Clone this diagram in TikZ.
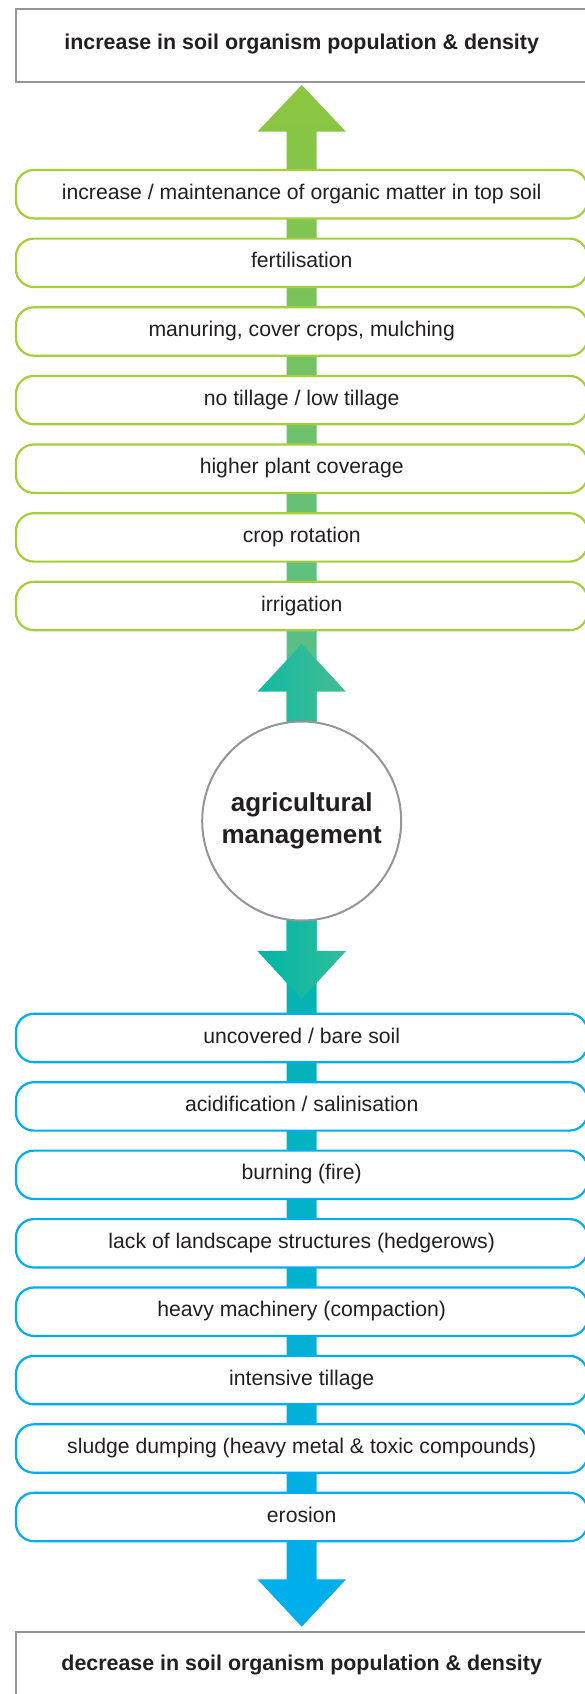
\documentclass[tikz,border=0pt]{standalone}
\usepackage{fontspec}
\setmainfont{Liberation Sans}
\usetikzlibrary{calc}
\definecolor{txt}{HTML}{231F20}
\definecolor{gborder}{HTML}{A6CE39}
\definecolor{bborder}{HTML}{00AEEF}
\definecolor{grayb}{HTML}{939598}
\definecolor{agreen}{HTML}{8DC63F}
\definecolor{agreenlow}{HTML}{51BE93}
\definecolor{tealA}{HTML}{10B9A4}
\definecolor{tealB}{HTML}{45BD90}
\definecolor{tealC}{HTML}{00B5A6}
\definecolor{tealD}{HTML}{2FBD9B}
\definecolor{tealtop}{HTML}{05B5AA}
\definecolor{cyanlow}{HTML}{00AEEF}
\begin{document}
\begin{tikzpicture}[x=1pt,y=-1pt,
  font=\fontsize{21.2}{25}\selectfont, text=txt,
  itembox/.style={draw, line width=2.2pt, rounded corners=18pt, fill=white,
    minimum width=571.6pt, minimum height=48.4pt, inner sep=0pt,
    text height=15pt, text depth=5pt},
  greenbox/.style={itembox, draw=gborder},
  bluebox/.style={itembox, draw=bborder},
  endbox/.style={draw=grayb, line width=2pt, fill=white, minimum width=571.8pt,
    inner sep=0pt, font=\bfseries\fontsize{21.4}{25}\selectfont},
  hub/.style={circle, draw=grayb, line width=2pt, fill=white, minimum size=199pt,
    inner sep=0pt, align=center, font=\bfseries\fontsize{26}{31.7}\selectfont}
]
\useasboundingbox (0,0) rectangle (584,1694);

% long upward arrow
\shade[top color=agreen, bottom color=agreenlow]
  (286.7,735) -- (286.7,131.7) -- (257.4,131.7) -- (301.7,85) -- (346,131.7)
  -- (316.7,131.7) -- (316.7,735) -- cycle;
% short upward arrow
\shade[left color=tealA, right color=tealB]
  (286.7,735) -- (286.7,691.7) -- (257.4,691.7) -- (301.7,644) -- (346,691.7)
  -- (316.7,691.7) -- (316.7,735) -- cycle;
% long downward arrow
\shade[top color=tealtop, bottom color=cyanlow]
  (286.7,910) -- (286.7,1579.3) -- (257.4,1579.3) -- (301.7,1626.7) -- (346,1579.3)
  -- (316.7,1579.3) -- (316.7,910) -- cycle;
% short downward arrow
\shade[left color=tealC, right color=tealD]
  (286.7,910) -- (286.7,951) -- (257.4,951) -- (301.7,999) -- (346,951)
  -- (316.7,951) -- (316.7,910) -- cycle;

\node[hub] (am) at (301.7,821) {agricultural\\management};

\node[endbox, minimum height=72.4pt, text height=15pt, text depth=7.4pt] (top) at (301.7,45.5)
  {increase in soil organism population \& density};
\node[endbox, minimum height=63pt, text height=16pt, text depth=2pt] (bottom) at (301.7,1663.5)
  {decrease in soil organism population \& density};

\node[greenbox] (g1) at (301.7,194.2) {increase / maintenance of organic matter in top soil};
\node[greenbox] (g2) at (301.7,262.8) {fertilisation};
\node[greenbox] (g3) at (301.7,331.5) {manuring, cover crops, mulching};
\node[greenbox] (g4) at (301.7,400.1) {no tillage / low tillage};
\node[greenbox] (g5) at (301.7,468.7) {higher plant coverage};
\node[greenbox] (g6) at (301.7,537.4) {crop rotation};
\node[greenbox] (g7) at (301.7,606.0) {irrigation};

\node[bluebox] (b1) at (301.7,1038.0) {uncovered / bare soil};
\node[bluebox] (b2) at (301.7,1106.4) {acidification / salinisation};
\node[bluebox] (b3) at (301.7,1174.8) {burning (fire)};
\node[bluebox] (b4) at (301.7,1243.3) {lack of landscape structures (hedgerows)};
\node[bluebox] (b5) at (301.7,1311.7) {heavy machinery (compaction)};
\node[bluebox] (b6) at (301.7,1380.1) {intensive tillage};
\node[bluebox] (b7) at (301.7,1448.5) {sludge dumping (heavy metal \& toxic compounds)};
\node[bluebox] (b8) at (301.7,1517.0) {erosion};
\end{tikzpicture}
\end{document}
